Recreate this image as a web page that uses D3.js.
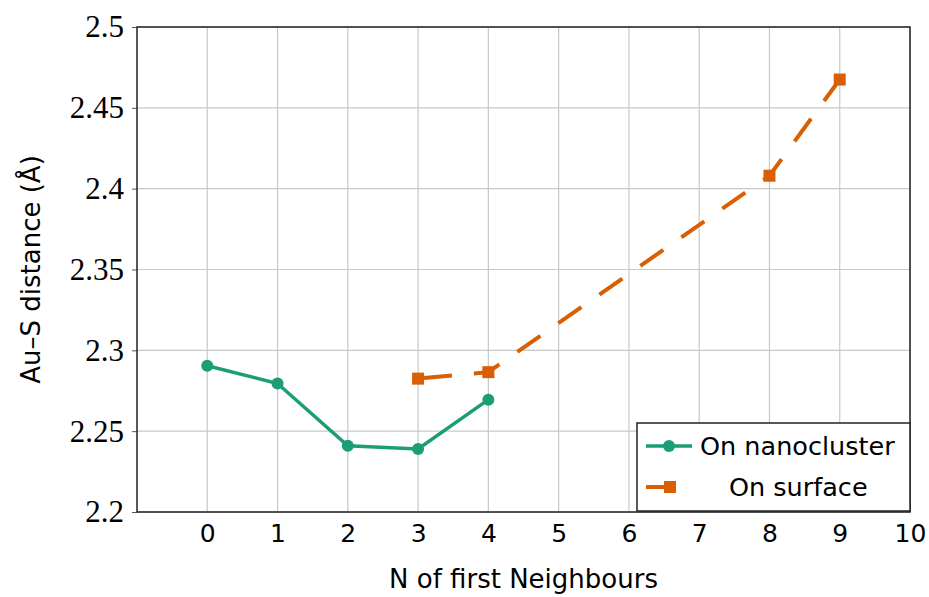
<!DOCTYPE html>
<html><head><meta charset="utf-8">
<script src="https://cdn.jsdelivr.net/npm/d3@7"></script>
<style>body{margin:0;background:#fff}</style>
</head><body>
<svg id="c" width="929" height="597"></svg>
<script>
const xTicks = [0,1,2,3,4,5,6,7,8,9,10];
const yTicks = [2.2,2.25,2.3,2.35,2.4,2.45,2.5];
const yTickLabels = ["2.2","2.25","2.3","2.35","2.4","2.45","2.5"];
const nanoX = [0,1,2,3,4];
const nanoY = [2.2905,2.2795,2.241,2.239,2.2695];
const surfX = [3,4,8,9];
const surfY = [2.2825,2.2865,2.408,2.4675];
const seriesNames = ["On nanocluster","On surface"];

const svg = d3.select("#c");
const L=137,R=910,T=27,B=512;
const x = d3.scaleLinear().domain([-1,10]).range([L,R]);
const y = d3.scaleLinear().domain([2.2,2.5]).range([B,T]);
const green="#1b9e77", orange="#d95f02";
const sans="'DejaVu Sans',sans-serif";

// grid
svg.append("g").selectAll("line").data(xTicks).join("line")
 .attr("x1",d=>x(d)).attr("x2",d=>x(d)).attr("y1",T).attr("y2",B)
 .attr("stroke","#c8c8c8").attr("stroke-width",1.2);
svg.append("g").selectAll("line").data(yTicks).join("line")
 .attr("x1",L).attr("x2",R).attr("y1",d=>y(d)).attr("y2",d=>y(d))
 .attr("stroke","#c8c8c8").attr("stroke-width",1.2);

// axes
const yAxis = d3.axisLeft(y).tickValues(yTicks).tickFormat((d,i)=>yTickLabels[i]).tickSizeInner(5).tickSizeOuter(0).tickPadding(8);
const gy = svg.append("g").attr("transform",`translate(${L},0)`).call(yAxis);
gy.select(".domain").remove();
gy.selectAll("line").attr("stroke","#555").attr("stroke-width",1);
gy.selectAll("text").attr("font-family","'Liberation Serif',serif").attr("font-size",31).attr("fill","#000");

const xAxis = d3.axisBottom(x).tickValues(xTicks).tickSize(0).tickPadding(12);
const gx = svg.append("g").attr("transform",`translate(0,${B})`).call(xAxis);
gx.select(".domain").remove();
gx.selectAll("text").attr("font-family",sans).attr("font-size",25).attr("fill","#000").attr("dy","0.7em");

// frame
svg.append("rect").attr("x",L).attr("y",T).attr("width",R-L).attr("height",B-T)
 .attr("fill","none").attr("stroke","#222").attr("stroke-width",1.5);

// labels
svg.append("text").attr("x",(L+R)/2).attr("y",588).attr("text-anchor","middle")
 .attr("font-family",sans).attr("font-size",26).text("N of first Neighbours");
svg.append("text").attr("transform",`translate(40,${(T+B)/2}) rotate(-90)`).attr("text-anchor","middle")
 .attr("font-family",sans).attr("font-size",26).text("Au–S distance (Å)");

// series
const line = d3.line().x(d=>x(d[0])).y(d=>y(d[1]));
const nano = nanoX.map((v,i)=>[v,nanoY[i]]);
const surf = surfX.map((v,i)=>[v,surfY[i]]);
svg.append("path").attr("d",line(nano)).attr("fill","none").attr("stroke",green).attr("stroke-width",3.5);
svg.append("g").selectAll("circle").data(nano).join("circle")
 .attr("cx",d=>x(d[0])).attr("cy",d=>y(d[1])).attr("r",6).attr("fill",green);

svg.append("path").attr("d",line(surf)).attr("fill","none").attr("stroke",orange).attr("stroke-width",4)
 .attr("stroke-dasharray","28,22").attr("stroke-dashoffset",-6);
svg.append("g").selectAll("rect").data(surf).join("rect")
 .attr("x",d=>x(d[0])-6).attr("y",d=>y(d[1])-6).attr("width",12).attr("height",12).attr("fill",orange);

// legend
const lg = svg.append("g");
lg.append("rect").attr("x",637).attr("y",423).attr("width",273).attr("height",88)
 .attr("fill","#fff").attr("stroke","#222").attr("stroke-width",1.5);
lg.append("line").attr("x1",646).attr("x2",692).attr("y1",446).attr("y2",446).attr("stroke",green).attr("stroke-width",3.5);
lg.append("circle").attr("cx",669).attr("cy",446).attr("r",6).attr("fill",green);
lg.append("text").attr("x",700).attr("y",455).attr("font-family",sans).attr("font-size",25.5).text(seriesNames[0]);
lg.append("line").attr("x1",646).attr("x2",670).attr("y1",487).attr("y2",487).attr("stroke",orange).attr("stroke-width",4);
lg.append("rect").attr("x",664).attr("y",481).attr("width",12).attr("height",12).attr("fill",orange);
lg.append("text").attr("x",729).attr("y",496).attr("font-family",sans).attr("font-size",25.5).text(seriesNames[1]);
</script>
</body></html>
